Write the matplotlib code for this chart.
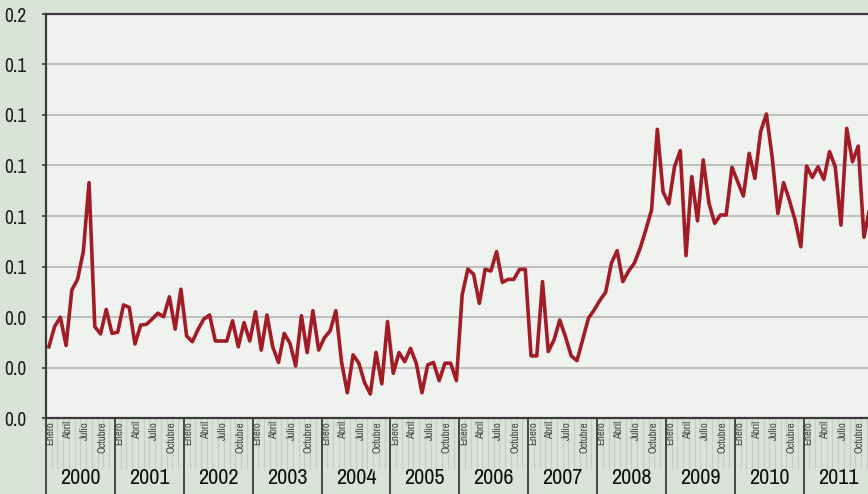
"""Monthly series 2000-2011, line chart with month/year axis."""

import matplotlib
matplotlib.use("Agg")
import matplotlib.pyplot as plt
import numpy as np
from matplotlib.ticker import FormatStrFormatter, MultipleLocator
from matplotlib import font_manager

# data, one list per year (Jan..Dec)
v2000 = [0.0282, 0.0362, 0.0399, 0.0287, 0.0507, 0.0549, 0.0659, 0.0932, 0.0362, 0.0333, 0.0430, 0.0335]
v2001 = [0.0340, 0.0448, 0.0438, 0.0293, 0.0368, 0.0371, 0.0392, 0.0415, 0.0401, 0.0480, 0.0352, 0.0510]
v2002 = [0.0325, 0.0302, 0.0351, 0.0392, 0.0408, 0.0305, 0.0305, 0.0305, 0.0385, 0.0282, 0.0378, 0.0305]
v2003 = [0.0421, 0.0269, 0.0408, 0.0282, 0.0220, 0.0335, 0.0296, 0.0206, 0.0405, 0.0259, 0.0425, 0.0269]
v2004 = [0.0318, 0.0345, 0.0425, 0.0220, 0.0100, 0.0250, 0.0217, 0.0140, 0.0095, 0.0260, 0.0135, 0.0382]
v2005 = [0.0177, 0.0259, 0.0223, 0.0276, 0.0217, 0.0100, 0.0210, 0.0220, 0.0148, 0.0217, 0.0217, 0.0148]
v2006 = [0.0487, 0.0590, 0.0569, 0.0454, 0.0589, 0.0582, 0.0659, 0.0537, 0.0549, 0.0549, 0.0589, 0.0589]
v2007 = [0.0246, 0.0246, 0.0540, 0.0263, 0.0309, 0.0388, 0.0322, 0.0246, 0.0227, 0.0310, 0.0395, 0.0428]
v2008 = [0.0466, 0.0498, 0.0613, 0.0663, 0.0540, 0.0582, 0.0613, 0.0672, 0.0745, 0.0824, 0.1143, 0.0896]
v2009 = [0.0848, 0.0995, 0.1059, 0.0643, 0.0956, 0.0781, 0.1022, 0.0850, 0.0771, 0.0804, 0.0804, 0.0993]
v2010 = [0.0936, 0.0879, 0.1048, 0.0949, 0.1134, 0.1204, 0.1035, 0.0810, 0.0932, 0.0863, 0.0784, 0.0678]
v2011 = [0.0998, 0.0953, 0.0995, 0.0945, 0.1055, 0.0995, 0.0764, 0.1147, 0.1015, 0.1077, 0.0716, 0.0830]

years = [2000, 2001, 2002, 2003, 2004, 2005, 2006, 2007, 2008, 2009, 2010, 2011]
month_labels = ["Enero", "Abril", "Julio", "Octubre"]
month_label_pos = [0, 3, 6, 9]

values = np.concatenate([v2000, v2001, v2002, v2003, v2004, v2005,
                         v2006, v2007, v2008, v2009, v2010, v2011])

# prefer a narrow face, like the original's condensed type
fonts = font_manager.fontManager.ttflist
narrow = [f.name for f in fonts if "Narrow" in f.name or "Condensed" in f.name]
condensed = [f.name for f in fonts if f.stretch in ("condensed", "semi-condensed")]
if narrow:
    FONT, STRETCH = narrow[0], "normal"
elif condensed:
    FONT, STRETCH = condensed[0], "condensed"
else:
    FONT, STRETCH = "DejaVu Sans", "normal"
plt.rcParams["font.family"] = [FONT, "DejaVu Sans"]
plt.rcParams["font.stretch"] = STRETCH

BG = "#d9e3d8"
PLOT_BG = "#f0f2ef"
LINE = "#a11c26"
DARK = "#3a3a3a"

W, H = 868, 494
fig = plt.figure(figsize=(W / 100, H / 100), dpi=100, facecolor=BG)
left, top, bottom = 46, 14, 418
month_w = 5.74
n = len(years) * 12
ax = fig.add_axes([left / W, (H - bottom) / H, n * month_w / W, (bottom - top) / H])
ax.set_facecolor(PLOT_BG)

x = np.arange(len(values)) + 0.5
ax.plot(x, values, color=LINE, lw=2.6, solid_joinstyle="round", zorder=3)

ax.set_xlim(0, n)
ax.set_ylim(0, 0.16)
ax.yaxis.set_major_locator(MultipleLocator(0.02))
ax.yaxis.set_major_formatter(FormatStrFormatter("%.1f"))
ax.grid(axis="y", color="#b5b7b5", lw=1.2)
ax.set_axisbelow(True)

for s in ["left", "top", "bottom"]:
    ax.spines[s].set_color(DARK)
    ax.spines[s].set_linewidth(1.6)
ax.spines["right"].set_visible(False)

ax.tick_params(axis="y", length=3, width=1.2, color=DARK, pad=11,
               labelsize=14, labelcolor="#1e1e1e")

# x axis: month boundaries (minor), year boundaries (major)
ax.set_xticks(np.arange(0, n + 1, 12))
ax.set_xticks(np.arange(0, n + 1), minor=True)
ax.tick_params(axis="x", which="major", length=55, width=1.3, color=DARK,
               labelbottom=False)
ax.tick_params(axis="x", which="minor", length=37, width=0.9, color="#c6cec6")

trans = ax.get_xaxis_transform()
for yi, yr in enumerate(years):
    for lab, m in zip(month_labels, month_label_pos):
        ax.text(yi * 12 + m + 0.8, -0.008, lab, transform=trans, rotation=90,
                ha="center", va="top", fontsize=7.8, color="#444444",
                clip_on=False)
    ax.text(yi * 12 + 6, -0.148, str(yr), transform=trans, ha="center",
            va="center", fontsize=16, color="#111111", clip_on=False)

fig.savefig("out.png", dpi=100, facecolor=BG)
